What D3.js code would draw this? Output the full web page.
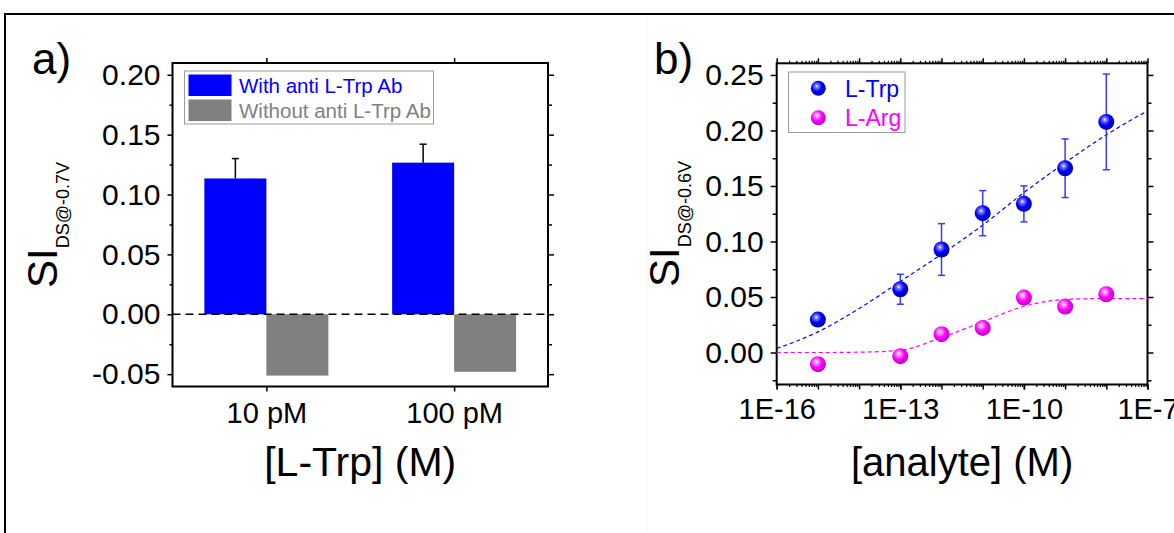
<!DOCTYPE html>
<html>
<head>
<meta charset="utf-8">
<script src="https://d3js.org/d3.v7.min.js"></script>
<style>
body { margin: 0; background: #fff; }
svg { display: block; font-family: Arial, "Liberation Sans", sans-serif; }
</style>
</head>
<body>
<svg id="chart" width="1174" height="533"></svg>
<script>
// panel a: bars
var categoriesA = ["10 pM", "100 pM"];
var withAb = [0.1134, 0.1266];
var withAbErr = [0.0166, 0.0154];
var withoutAb = [-0.0512, -0.0480];
var yTicksA = [-0.05, 0, 0.05, 0.10, 0.15, 0.20];
var yMinorA = [-0.025, 0.025, 0.075, 0.125, 0.175];
var legendA = ["With anti L-Trp Ab", "Without anti L-Trp Ab"];

// panel b: dose response
var conc = [1e-15, 1e-13, 1e-12, 1e-11, 1e-10, 1e-9, 1e-8];
var trp = [0.0297, 0.0570, 0.0928, 0.1255, 0.1339, 0.1660, 0.2077];
var trpErr = [0, 0.0135, 0.0233, 0.0203, 0.0162, 0.0264, 0.0431];
var arg = [-0.0105, -0.0033, 0.0165, 0.0222, 0.0495, 0.0414, 0.0525];
var fitConc = [1e-16, 1e-15, 1e-14, 1e-13, 1e-12, 1e-11, 1e-10, 1e-9, 1e-8, 1e-7];
var trpFit = [0.0036, 0.0186, 0.0396, 0.0640, 0.0886, 0.1147, 0.1440, 0.1710, 0.1960, 0.2177];
var argFit = [0.0000, 0.0000, 0.0003, 0.0020, 0.0135, 0.0276, 0.0417, 0.0477, 0.0486, 0.0486];
var yTicksB = [0, 0.05, 0.10, 0.15, 0.20, 0.25];
var yMinorB = [-0.025, 0.025, 0.075, 0.125, 0.175, 0.225];
var xTicksB = [1e-16, 1e-13, 1e-10, 1e-7];
var xTickLabelsB = ["1E-16", "1E-13", "1E-10", "1E-7"];
var legendB = ["L-Trp", "L-Arg"];

var blue = "#0000ff", gray = "#808080", magenta = "#ff00ff";
var svg = d3.select("#chart");

svg.append("rect").attr("width", 1174).attr("height", 533).attr("fill", "#fff");
// outer frame (only left and top edges visible)
svg.append("path").attr("d", "M5,540V14H1180").attr("fill", "none").attr("stroke", "#000").attr("stroke-width", 2);
svg.append("line").attr("x1", 647).attr("x2", 647).attr("y1", 17).attr("y2", 533).attr("stroke", "#f3f3f3");

// sphere gradients
var defs = svg.append("defs");
var sphere = function(id, light, base, dark) {
	var g = defs.append("radialGradient").attr("id", id).attr("cx", "40%").attr("cy", "38%").attr("r", "62%").attr("fx", "40%").attr("fy", "35%");
	g.append("stop").attr("offset", "0%").attr("stop-color", "#ffffff");
	g.append("stop").attr("offset", "18%").attr("stop-color", light);
	g.append("stop").attr("offset", "55%").attr("stop-color", base);
	g.append("stop").attr("offset", "100%").attr("stop-color", dark);
};
sphere("ballBlue", "#8080ff", blue, "#0000a8");
sphere("ballMag", "#ff9cff", magenta, "#c000c0");

var cleanAxis = function(g, fontSize) {
	g.select(".domain").remove();
	g.selectAll("line").attr("stroke", "#000").attr("stroke-width", 1.5);
	g.selectAll("text").attr("fill", "#000").style("font-size", fontSize + "px").style("font-family", "Arial, 'Liberation Sans', sans-serif");
};

var yTitle = function(x, y, sub) {
	var t = svg.append("text").attr("transform", "translate(" + x + "," + y + ") rotate(-90)").attr("text-anchor", "middle").attr("fill", "#000");
	t.append("tspan").style("font-size", "42px").text("SI");
	t.append("tspan").style("font-size", "18px").attr("dy", 11.5).text(sub);
};

// ---------- panel a ----------
var aL = 172.5, aR = 548, aT = 63, aB = 386.5;
var xA = d3.scalePoint().domain(categoriesA).range([aL, aR]).padding(0.5);
var yA = d3.scaleLinear().domain([-0.0603, 0.2098]).range([aB, aT]);
var barW = 62;

var pa = svg.append("g");
pa.selectAll("rect.with").data(categoriesA).enter().append("rect")
	.attr("x", function(d) { return xA(d) - barW; })
	.attr("y", function(d, i) { return yA(withAb[i]); })
	.attr("width", barW)
	.attr("height", function(d, i) { return yA(0) - yA(withAb[i]); })
	.attr("fill", blue);
pa.selectAll("rect.without").data(categoriesA).enter().append("rect")
	.attr("x", function(d) { return xA(d); })
	.attr("y", yA(0))
	.attr("width", barW)
	.attr("height", function(d, i) { return yA(withoutAb[i]) - yA(0); })
	.attr("fill", gray);

// upper error bars
categoriesA.forEach(function(c, i) {
	var cx = xA(c) - barW / 2, top = yA(withAb[i] + withAbErr[i]);
	pa.append("line").attr("x1", cx).attr("x2", cx).attr("y1", yA(withAb[i])).attr("y2", top).attr("stroke", "#000").attr("stroke-width", 1.5);
	pa.append("line").attr("x1", cx - 3.5).attr("x2", cx + 3.5).attr("y1", top).attr("y2", top).attr("stroke", "#000").attr("stroke-width", 1.5);
});

pa.append("line").attr("x1", aL).attr("x2", aR).attr("y1", yA(0)).attr("y2", yA(0))
	.attr("stroke", "#000").attr("stroke-width", 1.5).attr("stroke-dasharray", "8,5");

var fmt2 = function(d) { return d.toFixed(2); };
pa.append("g").attr("transform", "translate(" + aL + ",0)")
	.call(d3.axisLeft(yA).tickValues(yTicksA).tickSize(5).tickPadding(7).tickFormat(fmt2))
	.call(function(g) { cleanAxis(g, 30); });
pa.append("g").attr("transform", "translate(" + aL + ",0)")
	.call(d3.axisLeft(yA).tickValues(yMinorA).tickSize(3).tickFormat(""))
	.call(function(g) { cleanAxis(g, 30); });
pa.append("g").attr("transform", "translate(" + aR + ",0)")
	.call(d3.axisRight(yA).tickValues(yTicksA).tickSize(6).tickFormat(""))
	.call(function(g) { cleanAxis(g, 30); });
pa.append("g").attr("transform", "translate(" + aR + ",0)")
	.call(d3.axisRight(yA).tickValues(yMinorA).tickSize(4).tickFormat(""))
	.call(function(g) { cleanAxis(g, 30); });
pa.append("g").attr("transform", "translate(0," + aB + ")")
	.call(d3.axisBottom(xA).tickSize(5).tickPadding(11))
	.call(function(g) { cleanAxis(g, 29); });
pa.append("g").attr("transform", "translate(0," + aT + ")")
	.call(d3.axisTop(xA).tickSize(5).tickFormat(""))
	.call(function(g) { cleanAxis(g, 29); });
pa.append("rect").attr("x", aL).attr("y", aT).attr("width", aR - aL).attr("height", aB - aT)
	.attr("fill", "none").attr("stroke", "#000").attr("stroke-width", 2);

// legend a
pa.append("rect").attr("x", 184.5).attr("y", 71).attr("width", 249).attr("height", 53)
	.attr("fill", "#fff").attr("stroke", "#9a9a9a").attr("stroke-width", 1);
legendA.forEach(function(name, i) {
	var col = i == 0 ? blue : gray;
	pa.append("rect").attr("x", 188.5).attr("y", 74.5 + i * 25).attr("width", 43).attr("height", 21.5).attr("fill", col);
	pa.append("text").attr("x", 239).attr("y", 92.5 + i * 25).attr("fill", col).style("font-size", "20.5px").text(name);
});

svg.append("text").attr("x", 32).attr("y", 74).style("font-size", "44px").text("a)");
yTitle(57, 225, "DS@-0.7V");
svg.append("text").attr("x", (aL + aR) / 2).attr("y", 476).attr("text-anchor", "middle").style("font-size", "41px").text("[L-Trp] (M)");

// ---------- panel b ----------
var bL = 776.7, bR = 1147.5, bT = 63.3, bB = 384.5;
var xB = d3.scaleLog().domain([1e-16, 1e-7]).range([bL, bR]);
var yB = d3.scaleLinear().domain([-0.0288, 0.2605]).range([bB, bT]);

var decades = d3.range(-16, -6).map(function(k) { return Math.pow(10, k); });
var minorB = [];
decades.slice(0, -1).forEach(function(d) {
	for (var m = 2; m <= 9; m++) minorB.push(m * d);
});

var pb = svg.append("g");
pb.append("g").attr("transform", "translate(" + bL + ",0)")
	.call(d3.axisLeft(yB).tickValues(yTicksB).tickSize(6).tickPadding(7).tickFormat(fmt2))
	.call(function(g) { cleanAxis(g, 30); });
pb.append("g").attr("transform", "translate(" + bL + ",0)")
	.call(d3.axisLeft(yB).tickValues(yMinorB).tickSize(4).tickFormat(""))
	.call(function(g) { cleanAxis(g, 30); });
pb.append("g").attr("transform", "translate(" + bR + ",0)")
	.call(d3.axisRight(yB).tickValues(yTicksB).tickSize(6).tickFormat(""))
	.call(function(g) { cleanAxis(g, 30); });
pb.append("g").attr("transform", "translate(" + bR + ",0)")
	.call(d3.axisRight(yB).tickValues(yMinorB).tickSize(4).tickFormat(""))
	.call(function(g) { cleanAxis(g, 30); });
pb.append("g").attr("transform", "translate(0," + bB + ")")
	.call(d3.axisBottom(xB).tickValues(xTicksB).tickSize(5).tickPadding(9)
		.tickFormat(function(d, i) { return xTickLabelsB[i]; }))
	.call(function(g) { cleanAxis(g, 29); });
[[d3.axisBottom, bB], [d3.axisTop, bT]].forEach(function(p) {
	pb.append("g").attr("transform", "translate(0," + p[1] + ")")
		.call(p[0](xB).tickValues(decades).tickSize(5).tickFormat(""))
		.call(function(g) { cleanAxis(g, 29); });
	pb.append("g").attr("transform", "translate(0," + p[1] + ")")
		.call(p[0](xB).tickValues(minorB).tickSize(2.5).tickFormat(""))
		.call(function(g) { cleanAxis(g, 29); g.selectAll("line").attr("stroke-width", 1.2); });
});
pb.append("rect").attr("x", bL).attr("y", bT).attr("width", bR - bL).attr("height", bB - bT)
	.attr("fill", "none").attr("stroke", "#000").attr("stroke-width", 2);

// fitted curves
var fitLine = function(vals) {
	return d3.line().x(function(d, i) { return xB(fitConc[i]); }).y(function(d) { return yB(d); })
		.curve(d3.curveMonotoneX)(vals);
};
pb.append("path").attr("d", fitLine(trpFit)).attr("fill", "none").attr("stroke", blue)
	.attr("stroke-width", 1.2).attr("stroke-dasharray", "4,3");
pb.append("path").attr("d", fitLine(argFit)).attr("fill", "none").attr("stroke", magenta)
	.attr("stroke-width", 1.2).attr("stroke-dasharray", "4,3");

// error bars for L-Trp
conc.forEach(function(c, i) {
	if (!trpErr[i]) return;
	var cx = xB(c), y1 = yB(trp[i] + trpErr[i]), y2 = yB(trp[i] - trpErr[i]);
	pb.append("line").attr("x1", cx).attr("x2", cx).attr("y1", y1).attr("y2", y2).attr("stroke", "#3a3aff").attr("stroke-width", 1.5);
	[y1, y2].forEach(function(yy) {
		pb.append("line").attr("x1", cx - 3.5).attr("x2", cx + 3.5).attr("y1", yy).attr("y2", yy).attr("stroke", "#3a3aff").attr("stroke-width", 1.5);
	});
});

pb.selectAll("circle.arg").data(arg).enter().append("circle")
	.attr("cx", function(d, i) { return xB(conc[i]); })
	.attr("cy", function(d) { return yB(d); })
	.attr("r", 8).attr("fill", "url(#ballMag)");
pb.selectAll("circle.trp").data(trp).enter().append("circle")
	.attr("cx", function(d, i) { return xB(conc[i]); })
	.attr("cy", function(d) { return yB(d); })
	.attr("r", 8).attr("fill", "url(#ballBlue)");

// legend b
pb.append("rect").attr("x", 788.5).attr("y", 72).attr("width", 116.5).attr("height", 60.5)
	.attr("fill", "#fff").attr("stroke", "#9a9a9a").attr("stroke-width", 1);
legendB.forEach(function(name, i) {
	var col = i == 0 ? blue : magenta;
	pb.append("circle").attr("cx", 818.3).attr("cy", 88.3 + i * 29.4).attr("r", 7.5)
		.attr("fill", i == 0 ? "url(#ballBlue)" : "url(#ballMag)");
	pb.append("text").attr("x", 845).attr("y", 96.7 + i * 29.4).attr("fill", col).style("font-size", "23px").text(name);
});

svg.append("text").attr("x", 654).attr("y", 74).style("font-size", "44px").text("b)");
yTitle(679, 224, "DS@-0.6V");
svg.append("text").attr("x", (bL + bR) / 2).attr("y", 476).attr("text-anchor", "middle").style("font-size", "40px").text("[analyte] (M)");
</script>
</body>
</html>
